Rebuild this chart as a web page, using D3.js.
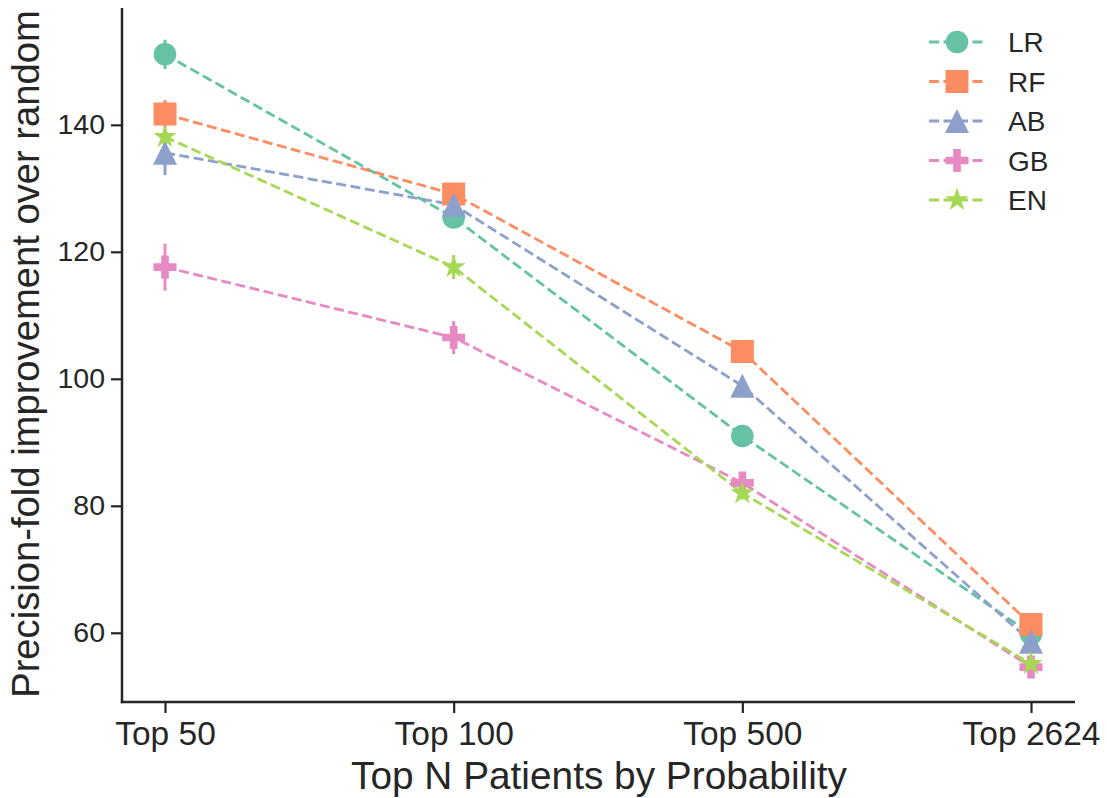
<!DOCTYPE html>
<html lang="en">
<head>
<meta charset="utf-8">
<title>pointplot</title>
<script src="https://d3js.org/d3.v7.min.js"></script>
<style>
  body { margin: 0; background: #fff; }
  text { font-family: "Liberation Sans", Arial, sans-serif; fill: #262626; }
</style>
</head>
<body>
<svg id="chart" width="1107" height="798"></svg>
<script>
// data
const categories = ["Top 50", "Top 100", "Top 500", "Top 2624"];
const models = ["LR", "RF", "AB", "GB", "EN"];
const colors = ["#66c2a5", "#fc8d62", "#8da0cb", "#e78ac3", "#a6d854"];
const markers = ["circle", "square", "triangle", "plus", "star"];

const LR = [151.1, 125.4, 91.0, 59.8];
const RF = [141.7, 129.1, 104.3, 61.3];
const AB = [135.6, 127.4, 98.9, 58.6];
const GB = [117.6, 106.5, 83.6, 54.6];
const EN = [138.1, 117.6, 82.0, 55.1];

// half-width of the confidence interval
const LRerr = [2.3, 1.0, 1.6, 0.6];
const RFerr = [2.2, 0.8, 1.0, 0.5];
const ABerr = [3.5, 1.0, 1.5, 0.6];
const GBerr = [3.7, 2.6, 1.7, 0.8];
const ENerr = [1.2, 1.9, 1.0, 0.5];

const yTicks = [60, 80, 100, 120, 140];

const series = [LR, RF, AB, GB, EN];
const errs = [LRerr, RFerr, ABerr, GBerr, ENerr];

const svg = d3.select("#chart");
const mLeft = 122, mRight = 1075, mTop = 8, mBottom = 702;

const x = d3.scalePoint().domain(categories).range([165, 1031]);
const y = d3.scaleLinear().domain([49.1, 158.4]).range([mBottom, mTop]);

// matplotlib-like marker paths
function markerPath(kind) {
  const p = d3.path();
  if (kind === "circle") {
    p.arc(0, 0, 11.3, 0, 2 * Math.PI);
  } else if (kind === "square") {
    p.rect(-11.5, -11.5, 23, 23);
  } else if (kind === "triangle") {
    const r = 12;
    p.moveTo(0, -r); p.lineTo(r, r); p.lineTo(-r, r); p.closePath();
  } else if (kind === "plus") {
    const a = 11.5, b = a / 3;
    p.moveTo(-b, -a); p.lineTo(b, -a); p.lineTo(b, -b); p.lineTo(a, -b);
    p.lineTo(a, b); p.lineTo(b, b); p.lineTo(b, a); p.lineTo(-b, a);
    p.lineTo(-b, b); p.lineTo(-a, b); p.lineTo(-a, -b); p.lineTo(-b, -b);
    p.closePath();
  } else {
    const R = 12.5, ri = R * 0.381966;
    for (let i = 0; i < 10; i++) {
      const rr = i % 2 === 0 ? R : ri;
      const ang = -Math.PI / 2 + i * Math.PI / 5;
      const px = rr * Math.cos(ang), py = rr * Math.sin(ang);
      if (i === 0) p.moveTo(px, py); else p.lineTo(px, py);
    }
    p.closePath();
  }
  return p.toString();
}

const line = d3.line().x((d, i) => x(categories[i])).y(d => y(d));

const plot = svg.append("g");

// lines and error bars
series.forEach((vals, s) => {
  plot.append("path")
    .attr("d", line(vals))
    .attr("fill", "none")
    .attr("stroke", colors[s])
    .attr("stroke-width", 2.8)
    .attr("stroke-dasharray", "10,4.5");

  plot.selectAll(null)
    .data(vals)
    .enter().append("line")
    .attr("x1", (d, i) => x(categories[i]))
    .attr("x2", (d, i) => x(categories[i]))
    .attr("y1", (d, i) => y(d - errs[s][i]))
    .attr("y2", (d, i) => y(d + errs[s][i]))
    .attr("stroke", colors[s])
    .attr("stroke-width", 3);
});

// markers on top
series.forEach((vals, s) => {
  plot.selectAll(null)
    .data(vals)
    .enter().append("path")
    .attr("d", markerPath(markers[s]))
    .attr("transform", (d, i) => `translate(${x(categories[i])},${y(d)})`)
    .attr("fill", colors[s]);
});

// axes
const xAxis = svg.append("g")
  .attr("transform", `translate(0,${mBottom})`)
  .call(d3.axisBottom(x).tickSize(11).tickPadding(8).tickSizeOuter(0));
xAxis.select(".domain").remove();
xAxis.selectAll("line").attr("stroke", "#262626").attr("stroke-width", 2.2);
xAxis.selectAll("text").style("font-size", "33.5px").attr("fill", "#262626");

const yAxis = svg.append("g")
  .attr("transform", `translate(${mLeft},0)`)
  .call(d3.axisLeft(y).tickValues(yTicks).tickSize(11).tickPadding(6));
yAxis.select(".domain").remove();
yAxis.selectAll("line").attr("stroke", "#262626").attr("stroke-width", 2.2);
yAxis.selectAll("text").style("font-size", "28.5px").attr("fill", "#262626");

// spines
svg.append("line").attr("x1", mLeft).attr("x2", mLeft).attr("y1", mTop).attr("y2", mBottom + 1.2)
  .attr("stroke", "#262626").attr("stroke-width", 2.5);
svg.append("line").attr("x1", mLeft - 1.2).attr("x2", mRight).attr("y1", mBottom).attr("y2", mBottom)
  .attr("stroke", "#262626").attr("stroke-width", 2.5);

// axis labels
svg.append("text")
  .attr("x", 599).attr("y", 789)
  .attr("text-anchor", "middle")
  .style("font-size", "38.8px")
  .text("Top N Patients by Probability");

svg.append("text")
  .attr("transform", "translate(39,354) rotate(-90)")
  .attr("text-anchor", "middle")
  .style("font-size", "38.2px")
  .text("Precision-fold improvement over random");

// legend
const legend = svg.append("g");
models.forEach((m, s) => {
  const ly = 42 + s * 39.5;
  legend.append("line")
    .attr("x1", 929).attr("x2", 986).attr("y1", ly).attr("y2", ly)
    .attr("stroke", colors[s]).attr("stroke-width", 2.8)
    .attr("stroke-dasharray", "10,4.5");
  legend.append("path")
    .attr("d", markerPath(markers[s]))
    .attr("transform", `translate(957,${ly})`)
    .attr("fill", colors[s]);
  legend.append("text")
    .attr("x", 1008).attr("y", ly)
    .attr("dy", "0.36em")
    .style("font-size", "28px")
    .text(m);
});
</script>
</body>
</html>
